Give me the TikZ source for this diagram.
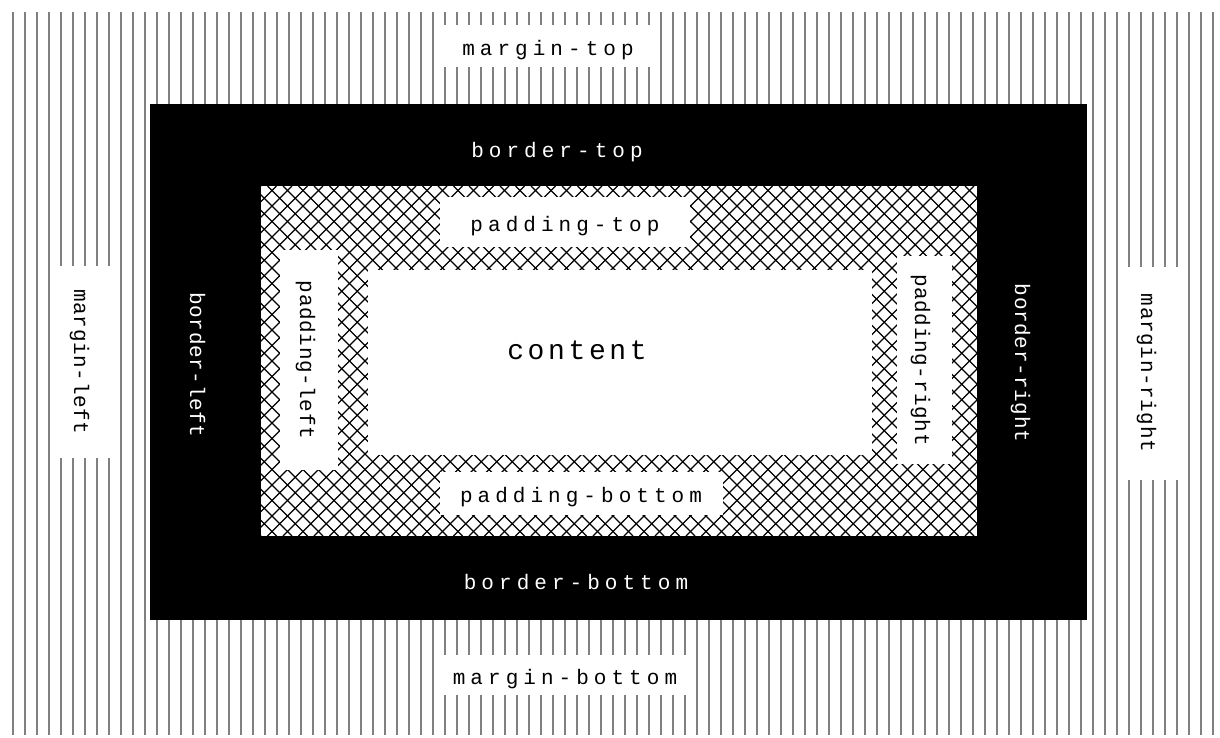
\documentclass[tikz,border=0pt]{standalone}
\usepackage{fontspec}
\newfontfamily\boxfont[LetterSpace=24]{Liberation Mono}
\newfontfamily\vertfont[LetterSpace=3]{Liberation Mono}
\newfontfamily\contfont[LetterSpace=13]{Liberation Mono}
\usetikzlibrary{positioning}

\begin{document}
\begin{tikzpicture}[
    x=1pt, y=-1pt,
    lbl/.style={font=\boxfont\fontsize{21}{21}\selectfont, inner sep=0pt,
                text centered, text height=18pt, text depth=0pt},
    box/.style={lbl, fill=white},
    blk/.style={lbl, text=white},
    vert/.style={rotate=-90, font=\vertfont\fontsize{21}{21}\selectfont},
    stripe/.style={draw=black!50, line width=2.2pt},
    hatch/.style={draw=black, line width=1.1pt}
  ]
  \useasboundingbox[fill=white] (0,0) rectangle (1220,737);

  % margin
  \foreach \x in {13,25,...,1213}
    \draw[stripe] (\x,12) -- (\x,735);

  \node[box, minimum width=220pt, minimum height=42pt] (mtop) at (548,46) {margin-top};
  \node[box, minimum width=250pt, minimum height=40pt] (mbot) at (565,675) {margin-bottom};
  \node[box, vert, minimum width=192pt, minimum height=57pt] (mleft) at (83,362) {margin-left};
  \node[box, vert, minimum width=213pt, minimum height=65pt] (mright) at (1150,373) {margin-right};

  % border
  \fill[black] (150,104) rectangle (1087,620);
  \node[blk] (btop) at (557,148) {border-top};
  \node[blk] (bbot) at (576,580) {border-bottom};
  \node[blk, vert] (bleft) at (199,365) {border-left};
  \node[blk, vert] (bright) at (1024,363) {border-right};

  % padding
  \begin{scope}
    \clip (261,186) rectangle (977,536);
    \fill[white] (261,186) rectangle (977,536);
    \foreach \c in {0,...,70} {
      \draw[hatch] ({-89+\c*15.5},186) -- ++(350,350);
      \draw[hatch] ({261+\c*15.5},186) -- ++(-350,350);
    }
  \end{scope}

  \node[box, minimum width=250pt, minimum height=50pt] (ptop) at (565,222) {padding-top};
  \node[box, minimum width=283pt, minimum height=43pt] (pbot) at (581,493) {padding-bottom};
  \node[box, vert, minimum width=220pt, minimum height=58pt] (pleft) at (309,360) {padding-left};
  \node[box, vert, minimum width=208pt, minimum height=55pt] (pright) at (924,360) {padding-right};

  % content
  \fill[white] (368,270) rectangle (872,455);
  \node[font=\contfont\fontsize{28}{28}\selectfont, inner sep=0pt] (cont) at (577,350) {content};

\end{tikzpicture}
\end{document}
